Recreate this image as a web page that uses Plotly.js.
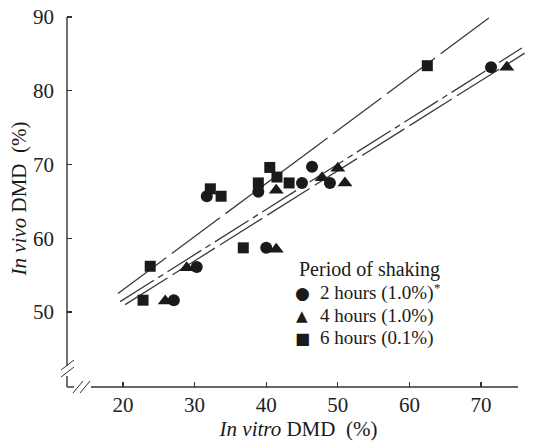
<!DOCTYPE html>
<html>
<head>
<meta charset="utf-8">
<script src="https://cdn.plot.ly/plotly-3.0.1.min.js"></script>
<style>html,body{margin:0;padding:0;background:#fff;}#chart{width:540px;height:444px;}</style>
</head>
<body>
<div id="chart"></div>
<script>
// In vitro DMD (%) vs In vivo DMD (%), by period of shaking
const hours2X = [27.1, 30.3, 31.7, 38.9, 40.0, 45.0, 46.4, 48.9, 71.4];
const hours2Y = [51.6, 56.1, 65.7, 66.3, 58.7, 67.5, 69.7, 67.5, 83.2];
const hours4X = [25.9, 28.9, 41.4, 41.4, 47.8, 50.0, 51.0, 73.6];
const hours4Y = [51.5, 56.0, 58.5, 66.5, 68.2, 69.5, 67.5, 83.2];
const hours6X = [22.8, 23.8, 32.2, 33.7, 36.8, 38.9, 40.5, 41.5, 43.2, 62.5];
const hours6Y = [51.6, 56.2, 66.7, 65.7, 58.7, 67.5, 69.6, 68.3, 67.5, 83.4];
// regression lines (end points)
const lineUpperX = [19.3, 71.7];
const lineUpperY = [52.5, 90.3];
const lineMidX = [19.6, 75.7];
const lineMidY = [51.4, 85.8];
const lineLowX = [20.3, 76.1];
const lineLowY = [51.0, 85.1];
const xTicks = [20, 30, 40, 50, 60, 70];
const yTicks = [50, 60, 70, 80, 90];
const legendTitle = 'Period of shaking';
const seriesNames = ['2 hours (1.0%)', '4 hours (1.0%)', '6 hours (0.1%)'];
const legendGlyphs = ['\u25CF', '\u25B2', '\u25A0'];
const footnoteMark = '*';

const serif = 'Liberation Serif, Times New Roman, serif';
const ink = '#1a1a1a';
const lineCol = '#3a3a3a';

const traces = [
  {x: lineUpperX, y: lineUpperY, mode: 'lines', line: {color: lineCol, width: 1.3, dash: '60px,7px'}, showlegend: false, hoverinfo: 'skip'},
  {x: lineMidX, y: lineMidY, mode: 'lines', line: {color: lineCol, width: 1.3, dash: '40px,5px,6px,5px'}, showlegend: false, hoverinfo: 'skip'},
  {x: lineLowX, y: lineLowY, mode: 'lines', line: {color: lineCol, width: 1.3, dash: '50px,6px'}, showlegend: false, hoverinfo: 'skip'},
  {x: hours2X, y: hours2Y, mode: 'markers', name: seriesNames[0], showlegend: false, marker: {symbol: 'circle', size: 12, color: ink}},
  {x: hours4X, y: hours4Y, mode: 'markers', name: seriesNames[1], showlegend: false, marker: {symbol: 'triangle-up', size: 13, color: ink}},
  {x: hours6X, y: hours6Y, mode: 'markers', name: seriesNames[2], showlegend: false, marker: {symbol: 'square', size: 11, color: ink}}
];

function px2x(p){return (p-67)/463;}
function py2y(p){return (387-p)/377;}
function seg(x0,y0,x1,y1,w){return {type:'line', xref:'paper', yref:'paper', x0:px2x(x0), y0:py2y(y0), x1:px2x(x1), y1:py2y(y1), line:{color:'#333', width:w||1.4}};}

const shapes = [
  seg(67,17,67,366),
  seg(67,376,67,387),
  seg(67,387,74,387),
  seg(91,387,518,387),
  seg(61,370,74,360,1),
  seg(61,377,74,367,1),
  seg(73,393,83,381,1),
  seg(80,393,90,381,1)
];

const annotations = [
  {text: legendTitle, xref: 'paper', yref: 'paper', x: px2x(297), y: py2y(269), xanchor: 'left', yanchor: 'middle', showarrow: false, font: {family: serif, size: 20, color: ink}}
];
const rowY = [293, 315.5, 338];
const glyphSize = [17, 15, 16];
seriesNames.forEach(function(n, i){
  annotations.push({text: legendGlyphs[i], xref: 'paper', yref: 'paper', x: px2x(302), y: py2y(rowY[i]), xanchor: 'center', yanchor: 'middle', showarrow: false, font: {family: 'DejaVu Sans', size: glyphSize[i], color: ink}});
  annotations.push({text: n, xref: 'paper', yref: 'paper', x: px2x(318), y: py2y(rowY[i]), xanchor: 'left', yanchor: 'middle', showarrow: false, font: {family: serif, size: 19, color: ink}});
});
annotations.push({text: footnoteMark, xref: 'paper', yref: 'paper', x: px2x(432), y: py2y(287), xanchor: 'left', yanchor: 'middle', showarrow: false, font: {family: serif, size: 13, color: ink}});

const layout = {
  width: 540, height: 444,
  margin: {l: 67, r: 10, t: 10, b: 57},
  paper_bgcolor: '#fff', plot_bgcolor: '#fff',
  font: {family: serif, size: 20, color: ink},
  xaxis: {
    range: [12.18, 76.84], tickvals: xTicks, ticktext: xTicks.map(String),
    ticks: 'inside', ticklen: 5, tickwidth: 1.2, tickcolor: '#333',
    showline: false, showgrid: false, zeroline: false,
    ticklabelstandoff: 3,
    tickfont: {family: serif, size: 21, color: '#222'},
    title: {text: '<i>In vitro</i> DMD  (%)', font: {family: serif, size: 21, color: ink}, standoff: 3}
  },
  yaxis: {
    range: [39.83, 90.95], tickvals: yTicks, ticktext: yTicks.map(String),
    ticks: 'inside', ticklen: 5, tickwidth: 1.2, tickcolor: '#333',
    showline: false, showgrid: false, zeroline: false,
    ticklabelstandoff: 12,
    tickfont: {family: serif, size: 21, color: '#222'},
    title: {text: '<i>In vivo</i> DMD  (%)', font: {family: serif, size: 21, color: ink}, standoff: 0}
  },
  showlegend: false,
  annotations: annotations,
  shapes: shapes
};

Plotly.newPlot('chart', traces, layout, {displayModeBar: false, staticPlot: true});
</script>
</body>
</html>
